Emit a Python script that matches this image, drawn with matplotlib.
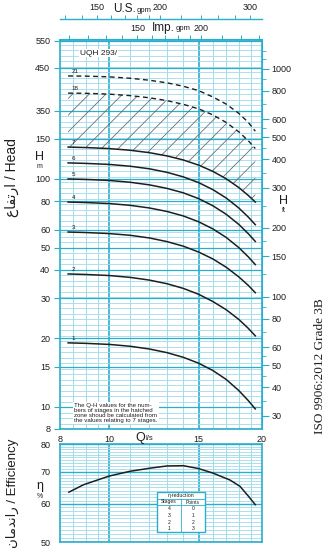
import numpy as np
import matplotlib
matplotlib.use('Agg')
import matplotlib.pyplot as plt
from matplotlib.ticker import NullLocator, NullFormatter
from matplotlib.patches import Rectangle

plt.rcParams['font.family'] = ['Liberation Sans', 'DejaVu Sans']
plt.rcParams['hatch.linewidth'] = 0.6

# flow (l/s) where the Q-H curves were read
q = [8.3, 9.0, 10.0, 11.0, 12.0, 13.0, 14.0, 15.0, 16.0, 17.0, 18.0, 18.8, 19.4]

# head (m) for each number of stages, as drawn on the chart
h1 = [19.1, 19.0, 18.8, 18.45, 17.95, 17.3, 16.5, 15.55, 14.45, 13.2, 11.8, 10.65, 9.8]
h2 = [38.3, 38.1, 37.7, 37.0, 36.0, 34.7, 33.1, 31.2, 29.0, 26.7, 24.2, 22.1, 20.5]
h3 = [58.5, 58.2, 57.6, 56.6, 55.1, 53.1, 50.7, 47.8, 44.6, 41.0, 37.2, 34.1, 31.7]
h4 = [79.2, 78.8, 78.0, 76.6, 74.6, 72.0, 68.8, 64.9, 60.4, 55.4, 50.0, 45.5, 42.1]
h5 = [100, 99.5, 98.5, 96.7, 94.2, 90.9, 86.9, 82.0, 76.3, 70.0, 63.2, 57.5, 53.2]
h6 = [117.6, 117.0, 115.8, 113.7, 110.8, 106.9, 102.1, 96.4, 89.8, 82.5, 74.6, 68.0, 63.0]
h7 = [138, 137.3, 135.9, 133.6, 130.4, 126.2, 121.1, 115.0, 108.0, 100.2, 91.7, 84.6, 79.2]
h18 = [238, 237.5, 235.5, 232, 227, 220.5, 212.5, 203, 191, 177, 161, 147, 136]
h21 = [283, 282.5, 280.5, 276.5, 271, 264, 255, 244, 229, 213, 194, 177, 162]

solid_curves = [('1', h1), ('2', h2), ('3', h3), ('4', h4), ('5', h5), ('6', h6), ('7', h7)]
dashed_curves = [('18', h18), ('21', h21)]

# efficiency curve
q_eff = [8.33, 8.9, 10.0, 11.0, 12.1, 13.0, 14.0, 15.0, 16.0, 17.3, 18.1, 18.8, 19.4]
eff = [63.5, 65.8, 68.6, 70.2, 71.3, 72.0, 72.1, 71.1, 69.6, 67.3, 65.3, 62.3, 59.8]

# eta reduction table
red_stages = ['4', '3', '2', '1']
red_points = ['0', '1', '2', '3']

# axis ticks
q_ticks = [8, 10, 15, 20]
q_grid_major = [10, 15]
q_grid_minor = [8.5, 9, 9.5, 11, 12, 13, 14, 16, 17, 18, 19]
h_ticks = [8, 10, 15, 20, 30, 40, 50, 60, 80, 100, 150]
h_top_ticks = [199, 307, 403]          # where the upper labels sit
h_top_labels = ['350', '450', '550']
ft_ticks = [30, 40, 50, 60, 80, 100, 150, 200, 300, 400, 500, 600, 800, 1000]
ft_minor = [35, 45, 55, 70, 90, 125, 175, 250, 350, 450, 550, 700, 900, 1100, 1200]
us_ticks = [130, 140, 150, 160, 170, 180, 190, 200, 220, 240, 260, 280, 300, 320]
us_labels = ['150', '200', '300']
imp_ticks = [110, 120, 130, 140, 150, 160, 170, 180, 190, 200, 220, 240, 260]
imp_labels = ['150', '200']
eff_ticks = [50, 60, 70, 80]

CYAN = '#2aaecb'
CYAN_L = '#9fdcea'
INK = '#1e1e1e'

fig = plt.figure(figsize=(3.28, 5.5), dpi=100)
W, H = 328, 550


def box(l, t, r, b):
    return [l / W, 1 - b / H, (r - l) / W, (b - t) / H]


# ---------------- Q-H chart ----------------
ax = fig.add_axes(box(60, 39.5, 262, 429))
ax.set_xscale('log')
ax.set_yscale('log')
ax.set_xlim(8, 20)
ax.set_ylim(8, 409)

for v in q_grid_minor:
    ax.axvline(v, color=CYAN_L, lw=0.7, zorder=0)
for v in q_grid_major:
    ax.axvline(v, color=CYAN, lw=1.2, zorder=0)
for v in np.geomspace(8, 409, 72):
    ax.axhline(v, color=CYAN_L, lw=0.6, zorder=0)
for v in h_ticks + h_top_ticks:
    ax.axhline(v, color=CYAN, lw=0.9, zorder=0)

for s in ax.spines.values():
    s.set_color(CYAN)
    s.set_linewidth(1.2)

ax.set_yticks(h_ticks + h_top_ticks, [str(v) for v in h_ticks] + h_top_labels)
ax.yaxis.set_minor_locator(NullLocator())
ax.yaxis.set_minor_formatter(NullFormatter())
ax.tick_params(axis='y', which='major', colors=CYAN, length=4, width=0.8,
               labelcolor=INK, labelsize=6.5, pad=3)
ax.set_xticks(q_ticks, [str(v) for v in q_ticks])
ax.xaxis.set_minor_locator(NullLocator())
ax.xaxis.set_minor_formatter(NullFormatter())
ax.tick_params(axis='x', which='major', length=0, labelsize=6.5, labelcolor=INK, pad=4)

# hatched zone between 7 stages and 18 stages
ax.fill_between(q, h7, h18, facecolor='none', edgecolor='#6d6d6d', hatch='//',
                linewidth=0, zorder=1)

for name, h in solid_curves:
    ax.plot(q, h, color=INK, lw=1.1, zorder=3)
    ax.annotate(name, (q[0], h[0]), xytext=(2.5, 1.5), textcoords='offset points',
                fontsize=4.5, ha='left', va='bottom', color=INK)
for name, h in dashed_curves:
    ax.plot(q, h, color=INK, lw=1.0, ls=(0, (3.5, 2.5)), zorder=3)
    ax.annotate(name, (q[0], h[0]), xytext=(2.5, 1.5), textcoords='offset points',
                fontsize=4.5, ha='left', va='bottom', color=INK)

ax.text(0.1, 0.965, 'UQH 293/', transform=ax.transAxes, fontsize=6, color=INK,
        va='center', ha='left', bbox=dict(facecolor='white', edgecolor='none', pad=0.6))
ax.text(0.07, 0.015,
        'The Q-H values for the num-\nbers of stages in the hatched\n'
        'zone shoud be calculated from\nthe values relating to 7 stages.',
        transform=ax.transAxes, fontsize=4.4, color=INK, va='bottom', ha='left',
        linespacing=1.0, bbox=dict(facecolor='white', edgecolor='none', pad=0.8))

# right axis in feet
ax_ft = ax.secondary_yaxis('right', functions=(lambda m: m / 0.3048, lambda f: f * 0.3048))
ax_ft.set_yticks(ft_ticks, [str(v) for v in ft_ticks])
ax_ft.set_yticks(ft_minor, minor=True)
ax_ft.yaxis.set_minor_formatter(NullFormatter())
ax_ft.tick_params(which='major', colors=CYAN, length=5, width=0.8, labelcolor=INK,
                  labelsize=6.5, pad=2)
ax_ft.tick_params(which='minor', colors=CYAN, length=3, width=0.6)
ax_ft.spines['right'].set_color(CYAN)

# top axes in gallons per minute
ax_imp = ax.secondary_xaxis('top', functions=(lambda x: x * 13.198, lambda g: g / 13.198))
ax_imp.set_xticks(imp_ticks, [str(v) if str(v) in imp_labels else '' for v in imp_ticks])
ax_imp.xaxis.set_minor_locator(NullLocator())
ax_imp.tick_params(colors=CYAN, length=3, width=0.7, labelcolor=INK, labelsize=6.5, pad=2)
ax_imp.spines['top'].set_color(CYAN)

ax_us = ax.secondary_xaxis(1 + 20.5 / 389.5,
                           functions=(lambda x: x * 15.85, lambda g: g / 15.85))
ax_us.set_xticks(us_ticks, [str(v) if str(v) in us_labels else '' for v in us_ticks])
ax_us.xaxis.set_minor_locator(NullLocator())
ax_us.tick_params(colors=CYAN, length=3, width=0.7, labelcolor=INK, labelsize=6.5, pad=2)
ax_us.spines['top'].set_color(CYAN)
ax_us.spines['top'].set_linewidth(1.0)

fig.text(113 / W, 1 - 9 / H, 'U.S.', fontsize=8.5, ha='left', va='center', color=INK)
fig.text(137 / W, 1 - 10 / H, 'gpm', fontsize=5.5, ha='left', va='center', color=INK)
fig.text(152 / W, 1 - 28 / H, 'Imp.', fontsize=8.5, ha='left', va='center', color=INK)
fig.text(175.5 / W, 1 - 29 / H, 'gpm', fontsize=5.5, ha='left', va='center', color=INK)

fig.text(39 / W, 1 - 157 / H, 'H', fontsize=9, ha='center', va='center', color=INK)
fig.text(39 / W, 1 - 166.5 / H, 'm', fontsize=5, ha='center', va='center', color=INK)
fig.text(284 / W, 1 - 201 / H, 'H', fontsize=9, ha='center', va='center', color=INK)
fig.text(284 / W, 1 - 210.5 / H, 'ft', fontsize=5, ha='center', va='center', color=INK)

fig.text(140 / W, 1 - 438 / H, 'Q', fontsize=9, ha='center', va='center', color=INK)
fig.text(146 / W, 1 - 439 / H, 'l/s', fontsize=5.5, ha='left', va='center', color=INK)

fig.text(12 / W, 1 - 178 / H, '\ufec9\ufe8e\ufed4\ufe97\ufead\ufe8d / Head', rotation=90,
         fontsize=10, ha='center', va='center', color=INK)
fig.text(12 / W, 1 - 493 / H, '\ufee5\ufe8e\ufee3\ufeaa\ufee7\ufe8d\ufead / Efficiency',
         rotation=90, fontsize=9.5, ha='center', va='center', color=INK)
fig.text(320 / W, 1 - 366 / H, 'ISO 9906:2012 Grade 3B', rotation=90, fontsize=9.5,
         family='Liberation Serif', ha='center', va='center', color=INK)

# ---------------- efficiency chart ----------------
ae = fig.add_axes(box(60, 444, 262, 542))
ae.set_xscale('log')
ae.set_yscale('log')
ae.set_xlim(8, 20)
ae.set_ylim(50, 80)
for v in q_grid_minor:
    ae.axvline(v, color=CYAN_L, lw=0.7, zorder=0)
for v in q_grid_major:
    ae.axvline(v, color=CYAN, lw=1.2, zorder=0)
for v in range(51, 80):
    ae.axhline(v, color=CYAN_L, lw=0.6, zorder=0)
for v in eff_ticks:
    ae.axhline(v, color=CYAN, lw=1.0, zorder=0)
for s in ae.spines.values():
    s.set_color(CYAN)
    s.set_linewidth(1.2)
ae.set_yticks(eff_ticks, [str(v) for v in eff_ticks])
ae.yaxis.set_minor_locator(NullLocator())
ae.yaxis.set_minor_formatter(NullFormatter())
ae.tick_params(axis='y', colors=CYAN, length=0, labelcolor=INK, labelsize=6.5, pad=7)
ae.xaxis.set_major_locator(NullLocator())
ae.xaxis.set_minor_locator(NullLocator())

ae.plot(q_eff, eff, color=INK, lw=1.1, zorder=3)

fig.text(40 / W, 1 - 486 / H, '\u03b7', fontsize=9, ha='center', va='center', color=INK)
fig.text(40 / W, 1 - 496 / H, '%', fontsize=5, ha='center', va='center', color=INK)

# eta reduction box
x0, x1 = (157 - 60) / 202, (205 - 60) / 202
y0, y1 = (542 - 532) / 98, (542 - 492) / 98
ae.add_patch(Rectangle((x0, y0), x1 - x0, y1 - y0, transform=ae.transAxes,
                       facecolor='white', edgecolor=CYAN, lw=1.0, zorder=4))
row_h = (y1 - y0) / 6
xm = (x0 + x1) / 2
ae.plot([x0, x1], [y1 - row_h, y1 - row_h], transform=ae.transAxes, color=CYAN, lw=0.6, zorder=5)
ae.plot([x0, x1], [y1 - 2 * row_h, y1 - 2 * row_h], transform=ae.transAxes, color=CYAN, lw=0.6, zorder=5)
ae.plot([xm, xm], [y0, y1 - row_h], transform=ae.transAxes, color=CYAN, lw=0.6, zorder=5)
ae.text(xm, y1 - row_h / 2, '\u03b7-reduction', transform=ae.transAxes, fontsize=3.8,
        ha='center', va='center', color=INK, zorder=6)
ae.text((x0 + xm) / 2, y1 - 1.5 * row_h, 'Stages', transform=ae.transAxes, fontsize=3.6,
        ha='center', va='center', color=INK, zorder=6)
ae.text((xm + x1) / 2, y1 - 1.5 * row_h, 'Points', transform=ae.transAxes, fontsize=3.6,
        ha='center', va='center', color=INK, zorder=6)
for i, (s, p) in enumerate(zip(red_stages, red_points)):
    yy = y1 - (2.5 + i) * row_h
    ae.text((x0 + xm) / 2, yy, s, transform=ae.transAxes, fontsize=3.6,
            ha='center', va='center', color=INK, zorder=6)
    ae.text((xm + x1) / 2, yy, p, transform=ae.transAxes, fontsize=3.6,
            ha='center', va='center', color=INK, zorder=6)

fig.savefig('out.png', dpi=100)
